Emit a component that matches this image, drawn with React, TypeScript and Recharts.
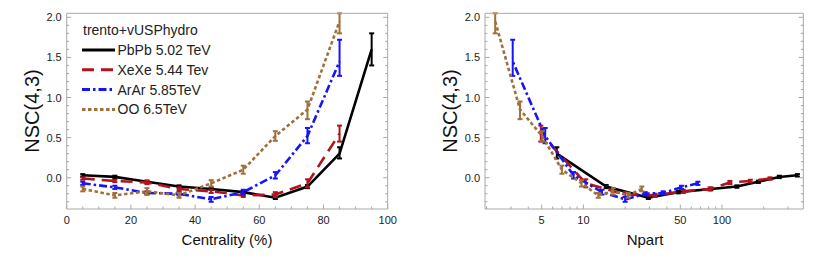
import React from 'react';
import { LineChart, Line, XAxis, YAxis, ErrorBar, Legend, Label } from 'recharts';

// ---------- data ----------
const centrality = [5, 15, 25, 35, 45, 55, 65, 75, 85, 95];

const nscPbPb = [0.03, 0.01, -0.05, -0.11, -0.14, -0.18, -0.25, -0.11, 0.3, 1.6];
const errPbPb = [[0.015, 0.015], [0.015, 0.015], [0.015, 0.015], [0.015, 0.015], [0.015, 0.015], [0.015, 0.015], [0.015, 0.015], [0.02, 0.02], [0.06, 0.08], [0.2, 0.2]];
const npartPbPb = [350, 259, 183, 128, 83, 48.4, 29.4, 14.6, 6.43];

const nscXeXe = [-0.01, -0.04, -0.06, -0.14, -0.17, -0.22, -0.21, -0.07, 0.55];
const errXeXe = [[0.015, 0.015], [0.015, 0.015], [0.02, 0.02], [0.02, 0.02], [0.02, 0.02], [0.02, 0.02], [0.03, 0.03], [0.05, 0.05], [0.1, 0.1]];
const npartXeXe = [222, 160, 114, 82, 52.6, 32.9, 20, 10.4, 4.93];

const nscArAr = [-0.07, -0.12, -0.19, -0.2, -0.27, -0.18, 0.03, 0.52, 1.45];
const errArAr = [[0.02, 0.02], [0.02, 0.02], [0.02, 0.02], [0.02, 0.02], [0.03, 0.03], [0.03, 0.03], [0.04, 0.04], [0.09, 0.1], [0.18, 0.27]];
const npartArAr = [67, 51, 37.6, 27.9, 20, 13.6, 8.5, 5.3, 3.09];

const nscOO = [-0.14, -0.22, -0.17, -0.22, -0.07, 0.1, 0.52, 0.85, 1.95];
const errOO = [[0.03, 0.03], [0.03, 0.03], [0.04, 0.04], [0.03, 0.03], [0.04, 0.04], [0.05, 0.05], [0.06, 0.06], [0.12, 0.1], [0.15, 0.1]];
const npartOO = [26.4, 21, 16.4, 12.8, 9.7, 7.0, 5.03, 3.49, 2.31];

const seriesNames = ['PbPb 5.02 TeV', 'XeXe 5.44 Tev', 'ArAr 5.85TeV', 'OO 6.5TeV'];
const legendTitle = 'trento+vUSPhydro';
const yTitle = 'NSC(4,3)';
const xTitleLeft = 'Centrality (%)';
const xTitleRight = 'Npart';

const centTicks = [0, 5, 10, 15, 20, 25, 30, 35, 40, 45, 50, 55, 60, 65, 70, 75, 80, 85, 90, 95, 100];
const centMajor = [0, 20, 40, 60, 80, 100];
const yTicks = [-0.3, -0.2, -0.1, 0, 0.1, 0.2, 0.3, 0.4, 0.5, 0.6, 0.7, 0.8, 0.9, 1.0, 1.1, 1.2, 1.3, 1.4, 1.5, 1.6, 1.7, 1.8, 1.9, 2.0];
const yMajor = [0, 0.5, 1.0, 1.5, 2.0];
const npartTicks = [2, 3, 4, 5, 6, 7, 8, 9, 10, 20, 30, 40, 50, 60, 70, 80, 90, 100, 200, 300];
const npartMajor = [5, 10, 50, 100];

// ---------- styles ----------
const FONT = '"Liberation Sans", Arial, sans-serif';
const FRAME = '#a8a8a8';
const TEXT = '#222';
const styles = [
  { color: '#000000', dash: undefined as string | undefined },
  { color: '#b0141c', dash: '12 7' },
  { color: '#1414ff', dash: '8 3 2.5 3' },
  { color: '#a0703c', dash: '3.5 2.5' },
];
const LW = 2.6;

const buildRows = (xs: number[], ys: number[], es: number[][]) =>
  ys.map((y, i) => (xs[i] === undefined ? null : { x: xs[i], y, e: es[i] })).filter(Boolean) as any[];

const leftData = [
  buildRows(centrality, nscPbPb, errPbPb),
  buildRows(centrality, nscXeXe, errXeXe),
  buildRows(centrality, nscArAr, errArAr),
  buildRows(centrality, nscOO, errOO),
];
const rightData = [
  buildRows(npartPbPb, nscPbPb, errPbPb),
  buildRows(npartXeXe, nscXeXe, errXeXe),
  buildRows(npartArAr, nscArAr, errArAr),
  buildRows(npartOO, nscOO, errOO),
];

type Orient = 'bottom' | 'top' | 'left' | 'right';
const isIn = (arr: number[], v: number) => arr.some((m) => Math.abs(m - v) < 1e-9);

function makeTick(orient: Orient, majors: number[], fmt?: (v: number) => string) {
  return (props: any) => {
    const { x, y, payload } = props;
    const v = payload.value;
    const major = isIn(majors, v);
    const len = major ? 4.5 : 2.5;
    let x2 = x, y2 = y;
    if (orient === 'bottom') y2 = y - len;
    if (orient === 'top') y2 = y + len;
    if (orient === 'left') x2 = x + len;
    if (orient === 'right') x2 = x - len;
    let label = null;
    if (fmt && major) {
      if (orient === 'bottom')
        label = (
          <text x={x} y={y + 15} textAnchor="middle" fontSize={11} fontFamily={FONT} fill={TEXT}>
            {fmt(v)}
          </text>
        );
      if (orient === 'left')
        label = (
          <text x={x - 5} y={y + 4} textAnchor="end" fontSize={11} fontFamily={FONT} fill={TEXT}>
            {fmt(v)}
          </text>
        );
    }
    return (
      <g>
        <line x1={x} y1={y} x2={x2} y2={y2} stroke={FRAME} strokeWidth={1} />
        {label}
      </g>
    );
  };
}

const renderLegend = () => (
  <svg width={150} height={100} style={{ display: 'block' }}>
    <text x={5} y={17} fontSize={14} fontFamily={FONT} fill={TEXT}>
      {legendTitle}
    </text>
    {seriesNames.map((name, i) => (
      <g key={name}>
        <line x1={4} x2={37} y1={32 + i * 19.8} y2={32 + i * 19.8} stroke={styles[i].color} strokeWidth={LW + 0.4} strokeDasharray={styles[i].dash} />
        <text x={39.5} y={37 + i * 19.8} fontSize={14} fontFamily={FONT} fill={TEXT}>
          {name}
        </text>
      </g>
    ))}
  </svg>
);

const yLabel = (cx: number) => () => (
  <text x={cx} y={111} transform={`rotate(-90 ${cx} 111)`} textAnchor="middle" dominantBaseline="central" fontSize={20} fontFamily={FONT} fill="#111">
    {yTitle}
  </text>
);
const xLabel = (cx: number, txt: string) => () => (
  <text x={cx} y={245} textAnchor="middle" fontSize={15} fontFamily={FONT} fill="#111">
    {txt}
  </text>
);

const fmtY = (v: number) => v.toFixed(1);
const fmtX = (v: number) => String(v);

function renderSeries(data: any[][]) {
  return data.map((d, i) => (
    <Line
      key={i}
      xAxisId="b"
      yAxisId="l"
      data={d}
      dataKey="y"
      stroke={styles[i].color}
      strokeWidth={LW}
      strokeDasharray={styles[i].dash}
      dot={false}
      activeDot={false}
      isAnimationActive={false}
      name={seriesNames[i]}
    >
      <ErrorBar dataKey="e" width={2.5} strokeWidth={2} stroke={styles[i].color} direction="y" isAnimationActive={false} />
    </Line>
  ));
}

export default function App() {
  return (
    <div style={{ position: 'absolute', left: 0, top: 0, width: 830, height: 260, background: '#fff' }}>
      <div style={{ position: 'absolute', left: 0, top: 0 }}>
        <LineChart width={415} height={260} margin={{ top: 12.3, right: 26.3, bottom: 21, left: 26.7 }}>
          <XAxis xAxisId="b" type="number" dataKey="x" domain={[0, 100]} ticks={centTicks} interval={0} tickSize={0} tickMargin={0} tickLine={false} tick={makeTick('bottom', centMajor, fmtX)} height={30} axisLine={{ stroke: FRAME }} allowDataOverflow>
            <Label content={xLabel(227, xTitleLeft)} />
          </XAxis>
          <XAxis xAxisId="t" orientation="top" type="number" domain={[0, 100]} ticks={centTicks} interval={0} tickSize={0} tickMargin={0} tickLine={false} tick={makeTick('top', centMajor)} height={1} axisLine={{ stroke: FRAME }} allowDataOverflow />
          <YAxis yAxisId="l" type="number" domain={[-0.39, 2.05]} ticks={yTicks} interval={0} tickSize={0} tickMargin={0} tickLine={false} tick={makeTick('left', yMajor, fmtY)} width={40} axisLine={{ stroke: FRAME }} allowDataOverflow>
            <Label content={yLabel(32)} />
          </YAxis>
          <YAxis yAxisId="r" orientation="right" type="number" domain={[-0.39, 2.05]} ticks={yTicks} interval={0} tickSize={0} tickMargin={0} tickLine={false} tick={makeTick('right', yMajor)} width={1} axisLine={{ stroke: FRAME }} allowDataOverflow />
          {renderSeries(leftData)}
          <Legend content={renderLegend} layout="horizontal" verticalAlign="middle" align="center" wrapperStyle={{ position: 'absolute', left: 78, top: 18, width: 150, height: 100 }} />
        </LineChart>
      </div>
      <div style={{ position: 'absolute', left: 415, top: 0 }}>
        <LineChart width={415} height={260} margin={{ top: 12.3, right: 25.7, bottom: 21, left: 30 }}>
          <XAxis xAxisId="b" type="number" dataKey="x" scale="log" domain={[1.95, 386]} ticks={npartTicks} interval={0} tickSize={0} tickMargin={0} tickLine={false} tick={makeTick('bottom', npartMajor, fmtX)} height={30} axisLine={{ stroke: FRAME }} allowDataOverflow>
            <Label content={xLabel(230, xTitleRight)} />
          </XAxis>
          <XAxis xAxisId="t" orientation="top" type="number" scale="log" domain={[1.95, 386]} ticks={npartTicks} interval={0} tickSize={0} tickMargin={0} tickLine={false} tick={makeTick('top', npartMajor)} height={1} axisLine={{ stroke: FRAME }} allowDataOverflow />
          <YAxis yAxisId="l" type="number" domain={[-0.39, 2.05]} ticks={yTicks} interval={0} tickSize={0} tickMargin={0} tickLine={false} tick={makeTick('left', yMajor, fmtY)} width={40} axisLine={{ stroke: FRAME }} allowDataOverflow>
            <Label content={yLabel(35)} />
          </YAxis>
          <YAxis yAxisId="r" orientation="right" type="number" domain={[-0.39, 2.05]} ticks={yTicks} interval={0} tickSize={0} tickMargin={0} tickLine={false} tick={makeTick('right', yMajor)} width={1} axisLine={{ stroke: FRAME }} allowDataOverflow />
          {renderSeries(rightData)}
        </LineChart>
      </div>
    </div>
  );
}
